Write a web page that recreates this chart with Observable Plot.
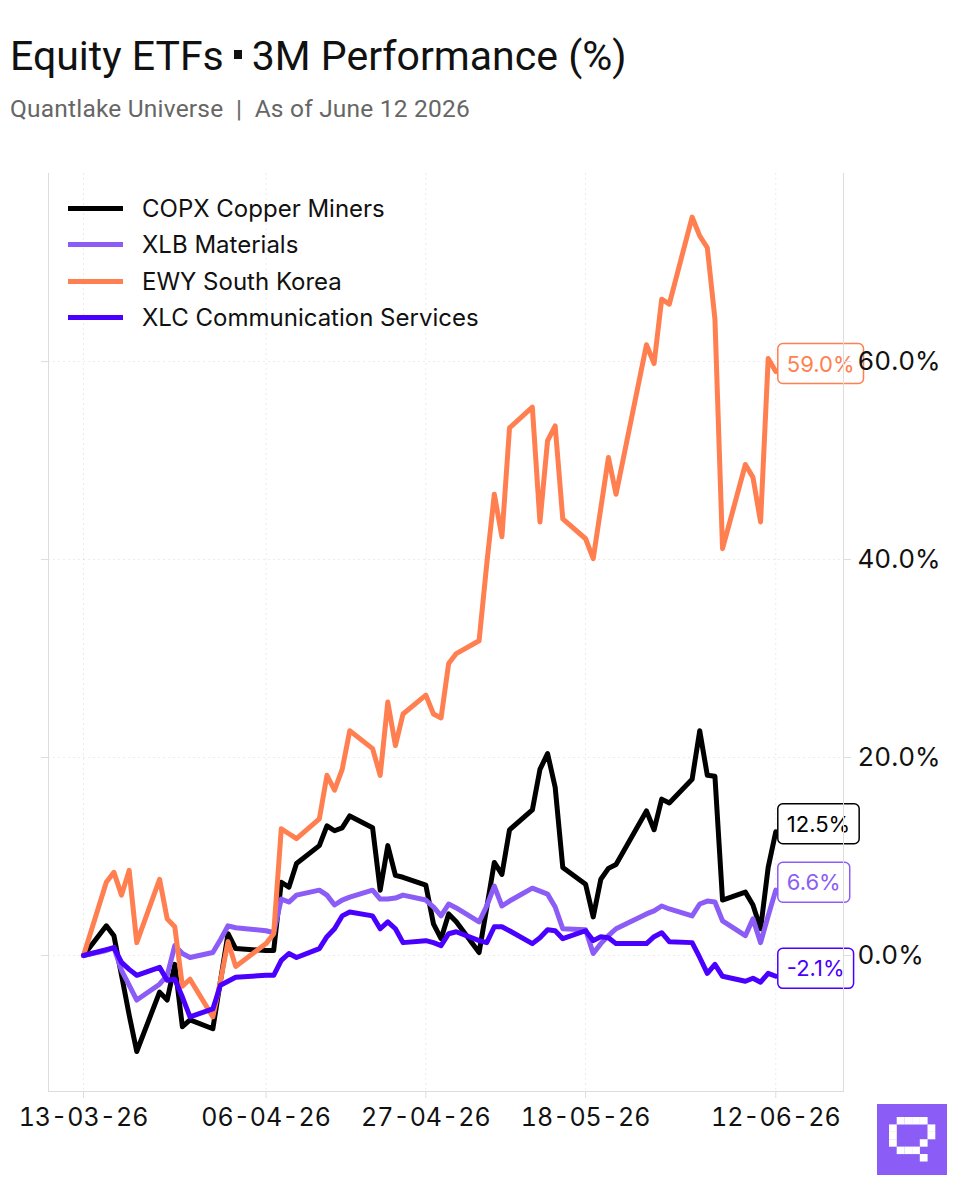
<!DOCTYPE html>
<html>
<head>
<meta charset="utf-8">
<script src="https://cdn.jsdelivr.net/npm/d3@7"></script>
<script src="https://cdn.jsdelivr.net/npm/@observablehq/plot@0.6"></script>
<style>
  html, body { margin: 0; padding: 0; background: #fff; }
  body { width: 960px; height: 1200px; position: relative; overflow: hidden; font-family: Inter, sans-serif; }
  #title { position: absolute; left: 10px; top: 36px; font: 400 41px/41px Roboto, sans-serif; color: #111; white-space: nowrap; }
  #title .sep { display: inline-block; width: 8px; height: 9px; background: #111; margin: 0 10px 0 10px; vertical-align: 0.28em; }
  #subtitle { position: absolute; left: 10px; top: 97px; font: 400 24.5px/24px Roboto, sans-serif; letter-spacing: 0.2px; color: #666; white-space: nowrap; }
  #chart { position: absolute; left: 0; top: 150px; }
  #legend { position: absolute; left: 0; top: 0; }
  .lg-row { position: absolute; left: 68px; height: 28px; display: flex; align-items: center; white-space: nowrap; }
  .lg-sw { width: 55px; height: 5px; margin-right: 19px; }
  .lg-tx { font: 400 24px Inter, sans-serif; color: #111; }
  #logo { position: absolute; left: 877px; top: 1104px; width: 70px; height: 71px; background: #8b5cf6; }
</style>
</head>
<body>
<div id="title">Equity ETFs<span class="sep"></span>3M Performance (%)</div>
<div id="subtitle">Quantlake Universe&nbsp;&nbsp;|&nbsp;&nbsp;As of June 12 2026</div>
<div id="chart"></div>
<div id="legend"></div>
<div id="logo"></div>
<script>
// ---------- data ----------
const dates = [
  "2026-03-13","2026-03-16","2026-03-17","2026-03-18","2026-03-19","2026-03-20",
  "2026-03-23","2026-03-24","2026-03-25","2026-03-26","2026-03-27",
  "2026-03-30","2026-03-31","2026-04-01","2026-04-02",
  "2026-04-06","2026-04-07","2026-04-08","2026-04-09","2026-04-10",
  "2026-04-13","2026-04-14","2026-04-15","2026-04-16","2026-04-17",
  "2026-04-20","2026-04-21","2026-04-22","2026-04-23","2026-04-24",
  "2026-04-27","2026-04-28","2026-04-29","2026-04-30","2026-05-01",
  "2026-05-04","2026-05-05","2026-05-06","2026-05-07","2026-05-08",
  "2026-05-11","2026-05-12","2026-05-13","2026-05-14","2026-05-15",
  "2026-05-18","2026-05-19","2026-05-20","2026-05-21","2026-05-22",
  "2026-05-26","2026-05-27","2026-05-28","2026-05-29",
  "2026-06-01","2026-06-02","2026-06-03","2026-06-04","2026-06-05",
  "2026-06-08","2026-06-09","2026-06-10","2026-06-11","2026-06-12"
];
const copx = [
  0.0, 3.0, 2.0, -2.0, -6.0, -9.7,
  -3.7, -4.5, -0.9, -7.2, -6.5,
  -7.4, -2.6, 2.2, 0.7,
  0.5, 0.5, 7.4, 6.9, 9.3,
  11.1, 13.1, 12.6, 12.9, 14.1,
  12.9, 6.6, 11.1, 8.1, 7.9,
  7.1, 3.2, 1.7, 4.2, 3.4,
  0.3, 4.8, 9.4, 8.2, 12.7,
  14.7, 18.8, 20.4, 17.0, 8.9,
  7.2, 3.9, 7.7, 8.8, 9.2,
  14.6, 12.7, 15.8, 15.4,
  17.8, 22.7, 18.2, 18.1, 5.6,
  6.4, 5.1, 2.7, 8.9, 12.5
];
const xlb = [
  0.0, 0.5, 0.8, -1.5, -3.0, -4.5,
  -2.9, -2.0, 1.0, 0.2, -0.2,
  0.3, 1.6, 3.0, 2.8,
  2.5, 2.3, 5.7, 5.4, 6.1,
  6.6, 6.1, 5.1, 5.6, 5.9,
  6.6, 5.7, 5.7, 5.8, 6.1,
  5.6, 4.9, 4.0, 5.2, 4.8,
  3.4, 5.0, 7.0, 5.0, 5.5,
  6.8, 6.5, 6.2, 4.9, 2.7,
  2.6, 0.2, 1.2, 2.0, 2.7,
  4.2, 4.5, 5.0, 4.7,
  4.0, 5.2, 5.5, 5.4, 3.5,
  2.0, 3.7, 1.3, 4.0, 6.6
];
const ewy = [
  0.0, 7.4, 8.4, 6.1, 8.6, 1.3,
  7.7, 3.7, 2.9, -3.1, -2.4,
  -6.2, -2.6, 1.4, -1.1,
  1.2, 2.2, 12.8, 12.3, 11.8,
  13.8, 18.2, 16.7, 18.8, 22.7,
  20.9, 18.2, 25.6, 21.2, 24.4,
  26.3, 24.4, 24.0, 29.5, 30.5,
  31.8, 39.5, 46.6, 42.3, 53.3,
  55.4, 43.8, 52.0, 53.5, 44.1,
  42.1, 40.1, 45.2, 50.3, 46.6,
  61.7, 59.8, 66.3, 65.8,
  74.6, 72.7, 71.5, 64.3, 41.1,
  49.6, 48.3, 43.8, 60.3, 59.0
];
const xlc = [
  0.0, 0.6, 0.8, -0.7, -1.4, -2.0,
  -1.2, -2.5, -2.4, -4.2, -6.2,
  -5.4, -3.0, -2.6, -2.2,
  -2.0, -2.0, -0.5, 0.2, -0.2,
  0.7, 1.9, 2.7, 4.0, 4.4,
  4.0, 2.7, 3.4, 2.7, 1.3,
  1.5, 1.3, 1.0, 2.2, 2.4,
  1.5, 1.3, 2.9, 2.9, 2.5,
  1.2, 1.8, 2.6, 2.5, 1.7,
  2.5, 1.5, 1.9, 1.8, 1.2,
  1.2, 1.9, 2.3, 1.4,
  1.3, -0.2, -1.8, -0.9, -2.1,
  -2.6, -2.3, -2.7, -1.8, -2.1
];
const seriesNames = ["COPX Copper Miners", "XLB Materials", "EWY South Korea", "XLC Communication Services"];
const seriesValues = [copx, xlb, ewy, xlc];
const seriesColors = ["#000000", "#8b5cf6", "#ff7f50", "#4a00ff"];
const xTickDates = ["2026-03-13", "2026-04-06", "2026-04-27", "2026-05-18", "2026-06-12"];
const yTicks = [0, 20, 40, 60];

// ---------- build ----------
const parse = d3.utcParse("%Y-%m-%d");
const rows = [];
seriesNames.forEach((name, s) => {
  seriesValues[s].forEach((v, i) => rows.push({ name, date: parse(dates[i]), value: v }));
});
const lastRows = seriesNames.map((name, s) => ({ name, date: parse(dates[dates.length - 1]), value: seriesValues[s][dates.length - 1] }));
const xTicks = xTickDates.map(parse);
const DAY = 864e5;
const x0 = parse(dates[0]), x1 = parse(dates[dates.length - 1]);

const grid = { stroke: "#000", strokeOpacity: 0.08, strokeDasharray: "2,3" };

const plot = Plot.plot({
  width: 960,
  height: 1050,
  marginLeft: 48,
  marginRight: 117,
  marginTop: 23,
  marginBottom: 109,
  style: { fontFamily: "Inter, sans-serif", fontSize: "22px", background: "transparent", overflow: "visible" },
  x: { type: "utc", domain: [new Date(+x0 - 4.6 * DAY), new Date(+x1 + 8.9 * DAY)], label: null },
  y: { domain: [-13.74, 79.0], label: null },
  color: { domain: seriesNames, range: seriesColors },
  marks: [
    Plot.gridX(xTicks, grid),
    Plot.gridY(yTicks, grid),
    Plot.line(rows, { x: "date", y: "value", z: "name", stroke: "name", strokeWidth: 5, strokeLinejoin: "round" }),
    Plot.text(lastRows, {
      x: "date", y: "value", fill: "name",
      text: d => d.value.toFixed(1) + "%",
      textAnchor: "start", dx: 11, dy: -7, fontSize: 22
    }),
    Plot.frame({ anchor: "left", stroke: "#ddd" }),
    Plot.frame({ anchor: "right", stroke: "#ddd" }),
    Plot.frame({ anchor: "bottom", stroke: "#ddd" }),
    Plot.axisX(xTicks, { tickSize: 7, tickPadding: 10, stroke: "#ddd", fill: "#111", fontSize: 25, tickFormat: d3.utcFormat("%d-%m-%y"), label: null }),
    Plot.axisY(yTicks, { anchor: "right", tickSize: 7, tickPadding: 7, stroke: "#ddd", fill: "#111", fontSize: 26, tickFormat: d => d.toFixed(1) + "%", label: null }),
    Plot.axisY(yTicks, { anchor: "left", tickSize: 7, stroke: "#ddd", fill: "none", tickFormat: () => "", label: null })
  ]
});
document.getElementById("chart").append(plot);

// boxed end labels
const svgns = "http://www.w3.org/2000/svg";
plot.querySelectorAll('g[aria-label="text"] text').forEach(t => {
  const b = t.getBBox();
  const r = document.createElementNS(svgns, "rect");
  r.setAttribute("x", b.x - 9);
  r.setAttribute("y", b.y - 7);
  r.setAttribute("width", b.width + 18);
  r.setAttribute("height", b.height + 14);
  r.setAttribute("rx", 5);
  r.setAttribute("fill", "#fff");
  r.setAttribute("stroke", t.getAttribute("fill"));
  r.setAttribute("stroke-width", 1.5);
  if (t.getAttribute("transform")) r.setAttribute("transform", t.getAttribute("transform"));
  t.parentNode.insertBefore(r, t);
});

// legend (HTML overlay)
const legendTops = [208, 244, 281, 317];
const lg = document.getElementById("legend");
seriesNames.forEach((name, i) => {
  const row = document.createElement("div");
  row.className = "lg-row";
  row.style.top = (legendTops[i] - 14) + "px";
  const sw = document.createElement("div");
  sw.className = "lg-sw";
  sw.style.background = seriesColors[i];
  const tx = document.createElement("div");
  tx.className = "lg-tx";
  tx.textContent = name;
  row.append(sw, tx);
  lg.append(row);
});

// logo glyph
const glyph = [".XXXX.", "X....X", "X....X", "X...X.", ".XXX..", "....X."];
const logo = d3.select("#logo").append("svg").attr("width", 70).attr("height", 71);
glyph.forEach((rowStr, r) => [...rowStr].forEach((c, k) => {
  if (c === "X") logo.append("rect").attr("x", 12 + k * 7.7).attr("y", 13 + r * 7.4).attr("width", 7.8).attr("height", 7.5).attr("fill", "#fff");
}));
</script>
</body>
</html>
